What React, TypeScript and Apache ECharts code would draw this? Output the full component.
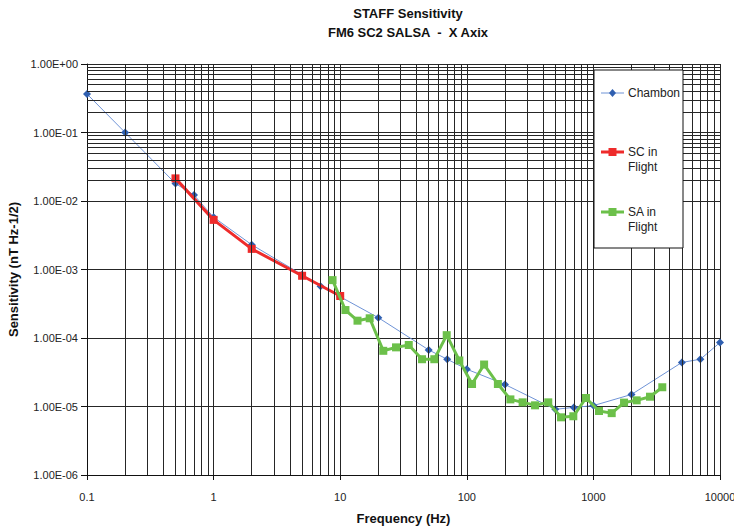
import React, { useEffect, useRef } from "react";
import * as echarts from "echarts";

// Chambon reference calibration
const chambonFreq = [0.1, 0.2, 0.5, 0.7, 1, 2, 5, 7, 10, 20, 50, 70, 100, 200, 500, 700, 1000, 2000, 5000, 7000, 10000];
const chambonSens = [0.365, 0.1, 0.018, 0.0122, 0.0058, 0.0023, 8.4e-4, 5.7e-4, 4.0e-4, 1.98e-4, 6.7e-5, 4.9e-5, 3.5e-5, 2.1e-5, 9.1e-6, 9.7e-6, 1.03e-5, 1.5e-5, 4.4e-5, 4.9e-5, 8.6e-5];

// SC in flight
const scFreq = [0.5, 1, 2, 5, 10];
const scSens = [0.0214, 0.0053, 0.002, 8.1e-4, 4.1e-4];

// SA in flight
const saFreq = [8.7, 11, 13.7, 17.1, 21.9, 27.6, 34.8, 44.3, 55.4, 69.4, 87.3, 110, 137, 176, 221, 276, 346, 440, 555, 694, 874, 1107, 1395, 1746, 2198, 2800, 3500];
const saSens = [7.0e-4, 2.56e-4, 1.79e-4, 1.94e-4, 6.5e-5, 7.3e-5, 7.9e-5, 4.9e-5, 4.9e-5, 1.1e-4, 4.7e-5, 2.13e-5, 4.1e-5, 2.13e-5, 1.27e-5, 1.15e-5, 1.04e-5, 1.15e-5, 6.95e-6, 7.2e-6, 1.33e-5, 8.6e-6, 8.0e-6, 1.14e-5, 1.23e-5, 1.39e-5, 1.91e-5];

const seriesNames = ["Chambon", "SC in Flight", "SA in Flight"];
const titleLines = ["STAFF Sensitivity", "FM6 SC2 SALSA  -  X Axix"];
const xAxisName = "Frequency (Hz)";
const yAxisName = "Sensitivity (nT Hz-1/2)";

const xDecades = [-1, 0, 1, 2, 3];
const yDecades = [-6, -5, -4, -3, -2, -1];

const BLUE = "#2f5fb0";
const BLUE_LINE = "#6f93d6";
const RED = "#ee2b2b";
const GREEN = "#6cc04a";
const GRID = "#262626";
const FONT = "'Liberation Sans', Arial, sans-serif";

const zip = (a: number[], b: number[]) => a.map((v, i) => [v, b[i]]);

// 2..9 subdivisions inside every decade
const minorValues = (decades: number[]) => {
  const out: number[] = [];
  decades.forEach((d) => {
    for (let k = 2; k <= 9; k++) out.push(parseFloat((k * Math.pow(10, d)).toPrecision(6)));
  });
  return out;
};

const sciLabel = (v: number) => {
  const e = Math.round(Math.log10(v));
  const m = v / Math.pow(10, e);
  return m.toFixed(2) + "E" + (e < 0 ? "-" : "+") + String(Math.abs(e)).padStart(2, "0");
};

export default function App() {
  const ref = useRef<HTMLDivElement>(null);

  useEffect(() => {
    if (!ref.current) return;
    const chart = echarts.init(ref.current, undefined, { renderer: "svg" });

    const lx = 594;
    const ly = 70;
    const Z = 100;
    const legendEntry = (y: number, color: string, width: number, symbol: "diamond" | "square", lines: string[]) => {
      const els: any[] = [
        { type: "line", z: Z + 1, shape: { x1: lx + 7, y1: y, x2: lx + 30, y2: y }, style: { stroke: color, lineWidth: width } },
      ];
      if (symbol === "diamond") {
        els.push({
          type: "polygon",
          z: Z + 2,
          shape: { points: [[lx + 18.5, y - 4], [lx + 22, y], [lx + 18.5, y + 4], [lx + 15, y]] },
          style: { fill: BLUE },
        });
      } else {
        els.push({ type: "rect", z: Z + 2, shape: { x: lx + 14.5, y: y - 4, width: 8, height: 8 }, style: { fill: color } });
      }
      lines.forEach((t, i) => {
        els.push({
          type: "text",
          z: Z + 2,
          x: lx + 34,
          y: y + i * 15,
          style: { text: t, font: `12px ${FONT}`, fill: "#222", verticalAlign: "middle", textAlign: "left" },
        });
      });
      return els;
    };

    chart.setOption({
      animation: false,
      backgroundColor: "#fff",
      title: {
        text: titleLines.join("\n"),
        left: 408,
        top: 4,
        padding: 0,
        textAlign: "center",
        textStyle: { fontFamily: FONT, fontSize: 13, fontWeight: "bold", color: "#111", lineHeight: 19 },
      },
      grid: { left: 87, right: 14, top: 64, bottom: 55, containLabel: false, outerBoundsMode: "none" },
      xAxis: {
        type: "log",
        logBase: 10,
        min: 0.1,
        max: 10000,
        interval: 1,
        name: xAxisName,
        nameLocation: "middle",
        nameGap: 37,
        nameTextStyle: { fontFamily: FONT, fontSize: 13, fontWeight: "bold", color: "#111" },
        axisLine: { show: true, lineStyle: { color: "#111", width: 1 } },
        axisTick: { show: true, length: 5, lineStyle: { color: "#111" } },
        axisLabel: {
          fontFamily: FONT,
          fontSize: 11,
          color: "#222",
          margin: 16,
          formatter: (v: number) => String(parseFloat(v.toPrecision(6))),
        },
        splitLine: { show: true, lineStyle: { color: GRID, width: 1 } },
      },
      yAxis: {
        type: "log",
        logBase: 10,
        min: 1e-6,
        max: 1,
        interval: 1,
        name: yAxisName,
        nameLocation: "middle",
        nameGap: 62,
        nameTextStyle: { fontFamily: FONT, fontSize: 13, fontWeight: "bold", color: "#111" },
        axisLine: { show: true, lineStyle: { color: "#111", width: 1 } },
        axisTick: { show: true, length: 6, lineStyle: { color: "#111" } },
        axisLabel: { fontFamily: FONT, fontSize: 11, color: "#222", margin: 9, formatter: sciLabel },
        splitLine: { show: true, lineStyle: { color: GRID, width: 1 } },
      },
      series: [
        {
          type: "line",
          name: "minor-grid",
          data: [],
          silent: true,
          z: 1,
          markLine: {
            silent: true,
            symbol: "none",
            label: { show: false },
            lineStyle: { color: GRID, width: 1, type: "solid" },
            emphasis: { disabled: true },
            data: [
              ...minorValues(xDecades).map((v) => ({ xAxis: v })),
              ...minorValues(yDecades).map((v) => ({ yAxis: v })),
            ],
          },
        },
        {
          type: "line",
          name: seriesNames[0],
          data: zip(chambonFreq, chambonSens),
          z: 3,
          symbol: "diamond",
          symbolSize: 8,
          itemStyle: { color: BLUE },
          lineStyle: { color: BLUE_LINE, width: 1 },
        },
        {
          type: "line",
          name: seriesNames[1],
          data: zip(scFreq, scSens),
          z: 4,
          symbol: "rect",
          symbolSize: 8,
          itemStyle: { color: RED },
          lineStyle: { color: RED, width: 3 },
        },
        {
          type: "line",
          name: seriesNames[2],
          data: zip(saFreq, saSens),
          z: 5,
          symbol: "rect",
          symbolSize: 8,
          itemStyle: { color: GREEN },
          lineStyle: { color: GREEN, width: 3 },
        },
      ],
      graphic: [
        {
          type: "group",
          z: Z,
          children: [
            {
              type: "rect",
              z: Z,
              shape: { x: lx, y: ly, width: 89, height: 178 },
              style: { fill: "#fff", stroke: "#111", lineWidth: 1 },
            },
            ...legendEntry(93, BLUE_LINE, 1, "diamond", [seriesNames[0]]),
            ...legendEntry(152, RED, 3, "square", ["SC in", "Flight"]),
            ...legendEntry(212, GREEN, 3, "square", ["SA in", "Flight"]),
          ],
        },
      ],
    });

    return () => chart.dispose();
  }, []);

  return <div ref={ref} style={{ position: "fixed", left: 0, top: 0, width: 734, height: 530 }} />;
}
